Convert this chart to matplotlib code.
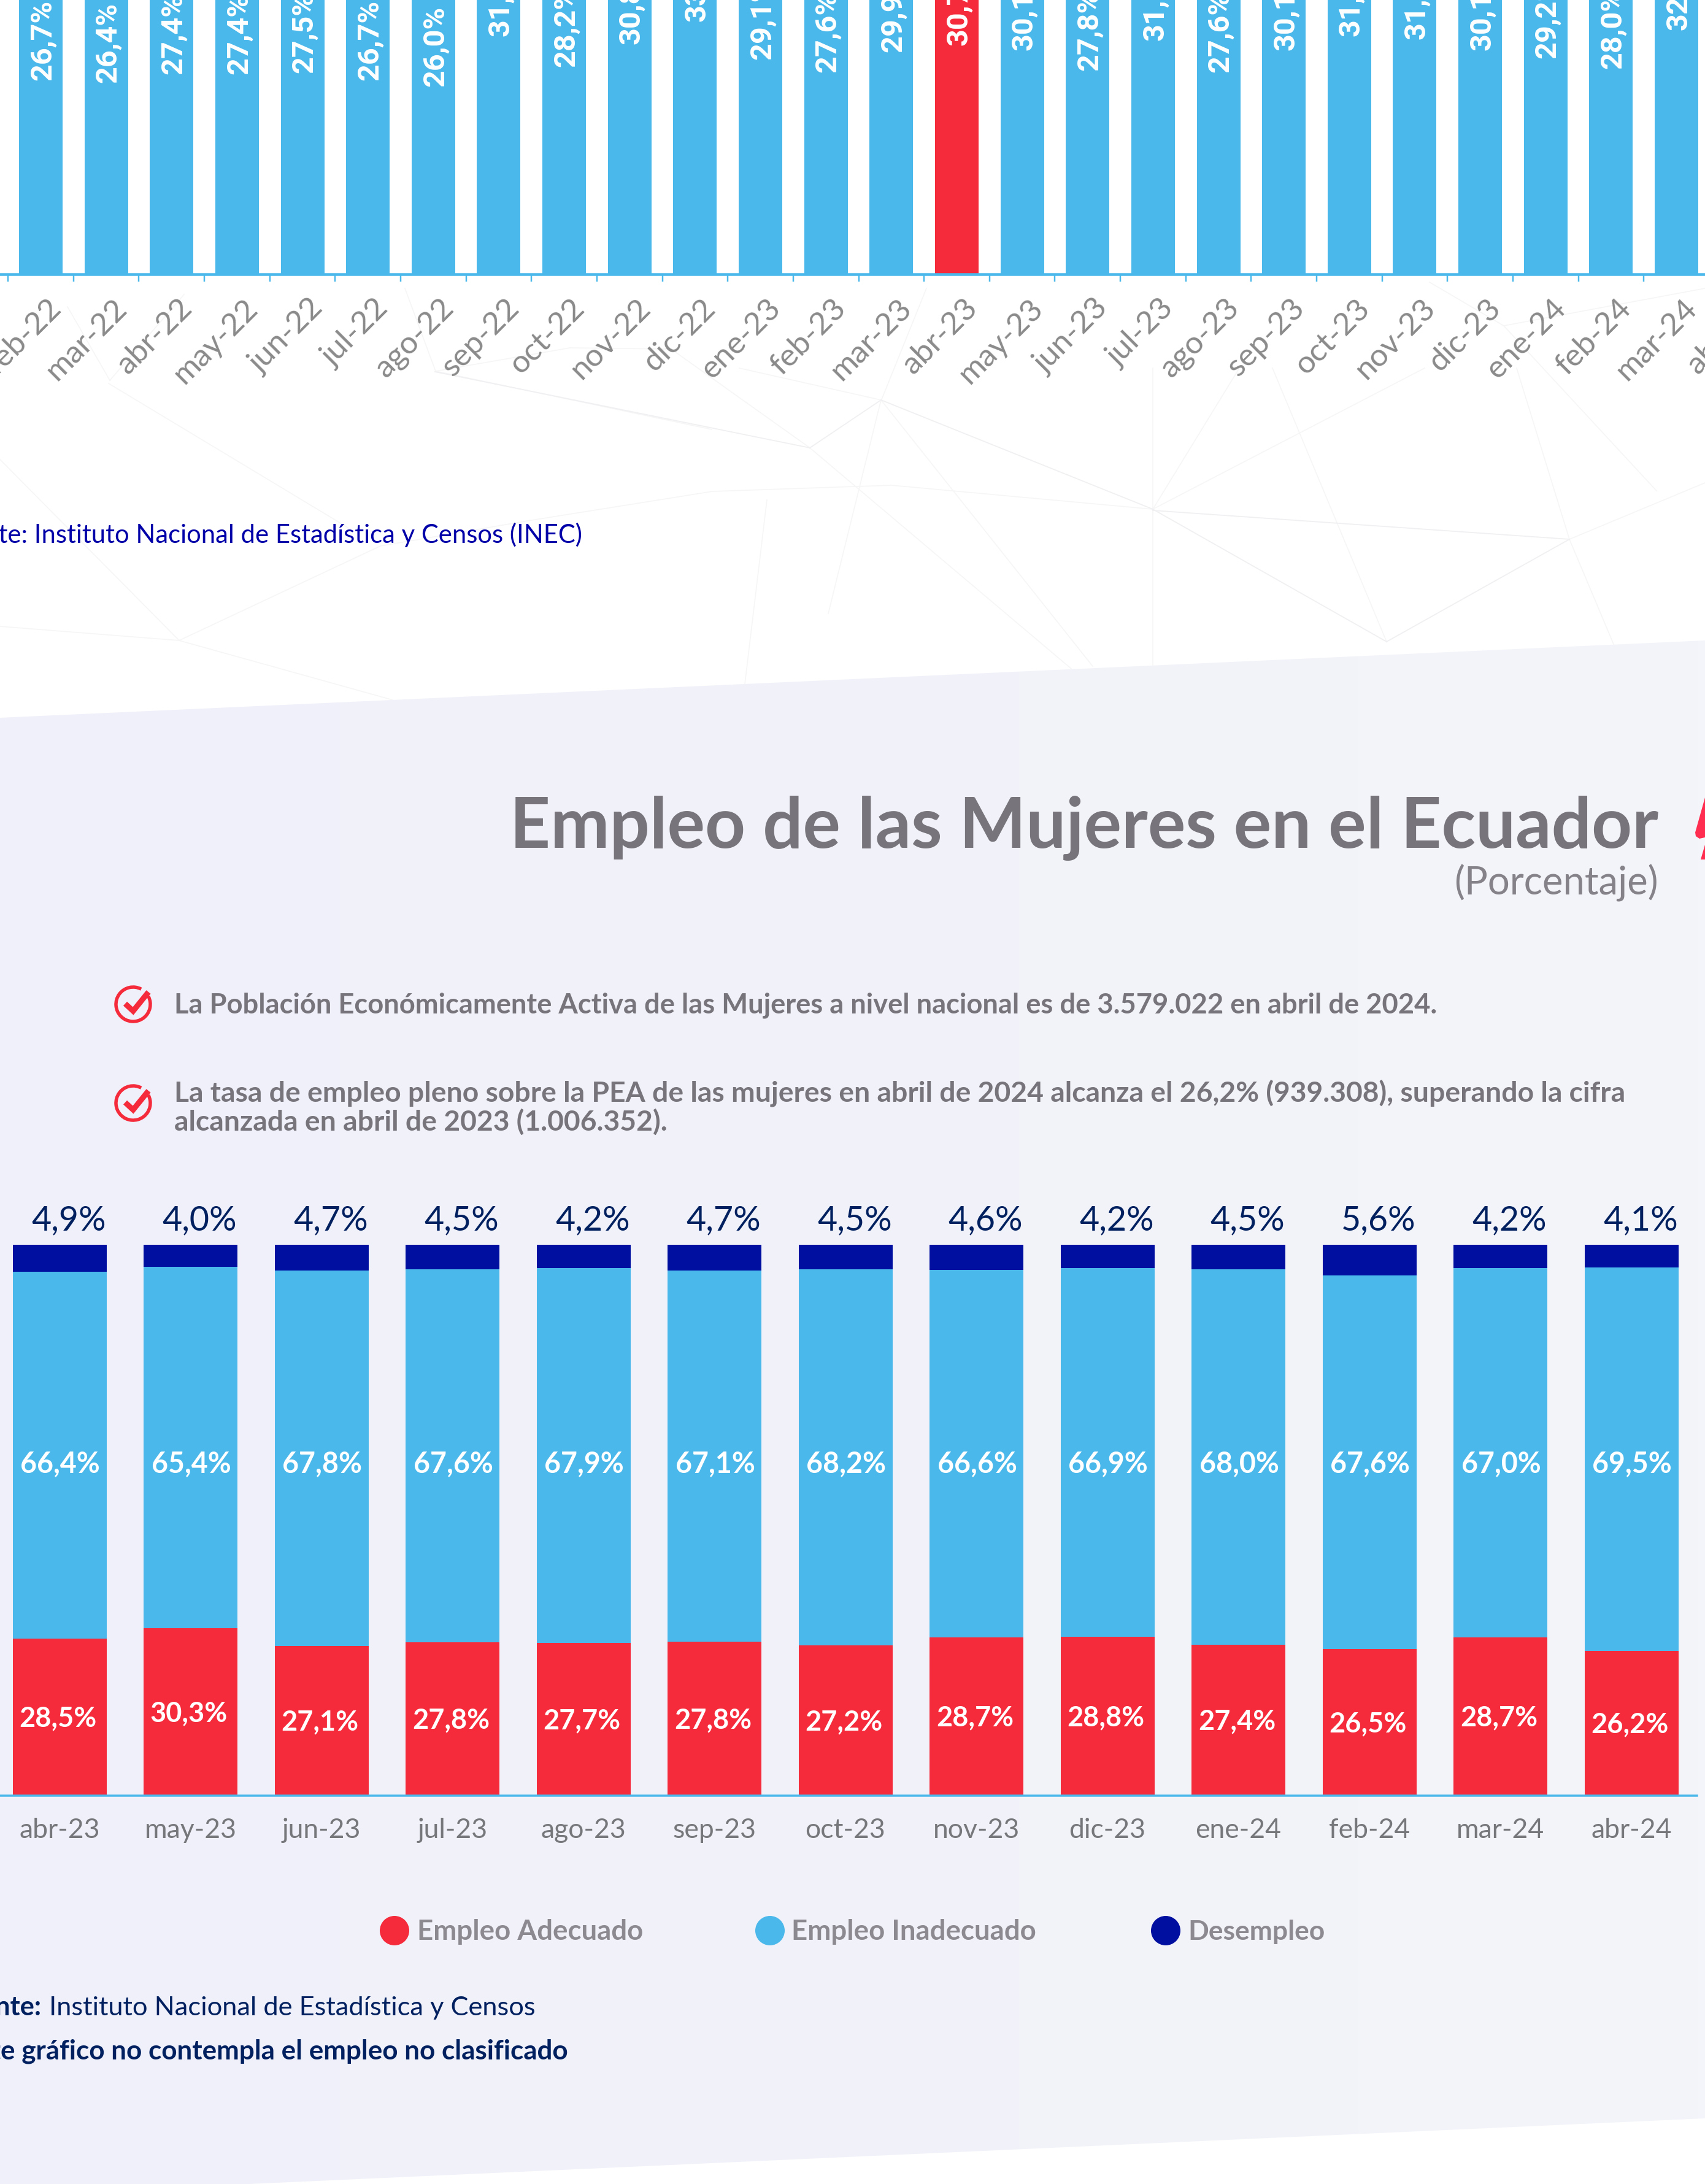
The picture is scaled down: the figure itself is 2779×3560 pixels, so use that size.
import numpy as np
import matplotlib
matplotlib.use("Agg")
import matplotlib.pyplot as plt
from matplotlib.patches import Polygon, Arc, Circle
from matplotlib.transforms import ScaledTranslation
from matplotlib.colors import LinearSegmentedColormap

# ---------- data ----------
top_months = ["feb-22","mar-22","abr-22","may-22","jun-22","jul-22","ago-22","sep-22","oct-22","nov-22",
              "dic-22","ene-23","feb-23","mar-23","abr-23","may-23","jun-23","jul-23","ago-23","sep-23",
              "oct-23","nov-23","dic-23","ene-24","feb-24","mar-24","abr-24"]
top_values = [26.7,26.4,27.4,27.4,27.5,26.7,26.0,31.7,28.2,30.8,
              33.4,29.1,27.6,29.9,30.7,30.1,27.8,31.2,27.6,30.1,
              31.7,31.4,30.1,29.2,28.0,32.4,31.0]
highlight = "abr-23"

months = ["abr-23","may-23","jun-23","jul-23","ago-23","sep-23","oct-23","nov-23","dic-23","ene-24","feb-24","mar-24","abr-24"]
adecuado = [28.5,30.3,27.1,27.8,27.7,27.8,27.2,28.7,28.8,27.4,26.5,28.7,26.2]
inadecuado = [66.4,65.4,67.8,67.6,67.9,67.1,68.2,66.6,66.9,68.0,67.6,67.0,69.5]
desempleo = [4.9,4.0,4.7,4.5,4.2,4.7,4.5,4.6,4.2,4.5,5.6,4.2,4.1]

RED = "#F52A3A"; BLUE = "#4AB8EA"; NAVY = "#000F9F"; TXT = "#77747B"; DARK = "#00205F"
W, H = 2779, 3560
DPI = 100
FONT = "Lato"
plt.rcParams["font.family"] = [FONT, "DejaVu Sans"]

fig = plt.figure(figsize=(W/DPI, H/DPI), dpi=DPI, facecolor="white")
px = 72/DPI   # points per pixel

# ---------- background, in pixel coordinates ----------
bg = fig.add_axes([0, 0, 1, 1], zorder=0)
bg.set_xlim(0, W); bg.set_ylim(H, 0); bg.axis("off")

faint = [[(292,1044),(620,890),(860,849),(1161,801),(1453,791),(1879,830)],
         [(1320,730),(1746,1090)],[(1436,652),(1781,1086)],[(1879,830),(1879,1190)],
         [(1250,815),(1214,1115)],[(177,625),(567,860)],[(0,749),(292,1044)],[(0,1021),(292,1044)],
         [(292,1044),(640,1141)],[(1879,830),(2322,600)],[(1879,830),(2020,600)],[(1879,830),(1879,600)],
         [(1436,652),(1205,600)],[(2260,1046),(2074,600)],[(2558,879),(2472,600)],[(2558,879),(2779,787)],
         [(2558,879),(2630,1050)],[(710,605),(929,567)],[(929,567),(1094,569)],[(710,605),(1160,700)],
         [(1094,569),(1320,730)],[(179,620),(110,500)],[(179,620),(300,480)],[(710,605),(660,470)],
         [(1435,656),(1510,470)],[(1435,656),(1350,1000)],[(2451,531),(2779,470)],[(2451,531),(2700,800)],
         [(2451,531),(2330,460)]]
strong = [[(1879,830),(1436,652)],[(1879,832),(2558,879)],[(709,606),(1320,730)],[(1879,830),(2260,1046)],
          [(2558,879),(2260,1046)],[(1320,730),(1436,652)]]
for seg in faint:
    xs, ys = zip(*seg)
    bg.plot(xs, ys, color="#F6F6F7", lw=1.2, zorder=1)
for seg in strong:
    xs, ys = zip(*seg)
    bg.plot(xs, ys, color="#F0F0F2", lw=1.3, zorder=1)

panel_pts = [(0,1170),(W,1044),(W,3453),(405,3560),(0,3560)]
grad = np.linspace(0, 1, 256).reshape(1, -1)
cmap = LinearSegmentedColormap.from_list("p", ["#EFF0F9", "#F4F5FA"])
im = bg.imshow(grad, extent=(0, W, H, 1000), cmap=cmap, aspect="auto", zorder=2)
bg.set_xlim(0, W); bg.set_ylim(H, 0)
poly = Polygon(panel_pts, closed=True, transform=bg.transData, facecolor="none", edgecolor="none")
bg.add_patch(poly)
im.set_clip_path(poly)

# lightning fragment
bg.add_patch(Polygon([(2779,1300),(2763,1357),(2764,1363),(2770,1367),(2779,1365)], closed=True, fc="#FF2D50", ec="none", zorder=3))
bg.add_patch(Polygon([(2779,1377),(2772,1401),(2779,1401)], closed=True, fc="#FF2D50", ec="none", zorder=3))

renderer = fig.canvas.get_renderer()
def put(x, y, s, w=None, probe=None, **kw):
    """Text on the pixel layer; w = target width in px of `probe` (or of s)."""
    kw.setdefault("va", "baseline")
    t = bg.text(x, y, s, zorder=6, **kw)
    if w is not None:
        t.set_text(probe or s)
        e = t.get_window_extent(renderer).width
        t.set_fontsize(t.get_fontsize()*w/e)
        t.set_text(s)
    return t

# title block
put(2703, 1382, "Empleo de las Mujeres en el Ecuador", w=1874, ha="right", color=TXT, fontweight="bold", fontsize=70)
put(2703, 1458, "(Porcentaje)", w=333, ha="right", color="#85828A", fontsize=40)

# bullets
bul = dict(color=TXT, fontweight="bold", fontsize=32)
put(284, 1652, "La Población Económicamente Activa de las Mujeres a nivel nacional es de 3.579.022 en abril de 2024.", w=2066, **bul)
line1 = "La tasa de empleo pleno sobre la PEA de las mujeres en abril de 2024 alcanza el 26,2% (939.308), superando la cifra"
t1 = put(284, 1796, line1, w=2363, **bul)
put(284, 1843, "alcanzada en abril de 2023 (1.006.352).", color=TXT, fontweight="bold", fontsize=t1.get_fontsize())
for cy in (1637, 1798):
    bg.add_patch(Arc((217, cy), 56, 56, theta1=-28, theta2=298, ec=RED, lw=5.5*px, zorder=5))
    bg.plot([204, 217, 242], [cy-1, cy+11, cy-20], color=RED, lw=9*px, zorder=5, solid_joinstyle="miter", solid_capstyle="butt")

# sources
put(949, 885, "Fuente: Instituto Nacional de Estadística y Censos (INEC)", w=892, probe="Instituto Nacional de Estadística y Censos (INEC)",
    ha="right", color="#0000A8", fontsize=30)
src = put(80, 3285, "Instituto Nacional de Estadística y Censos", w=794, color=DARK, fontsize=30)
put(68, 3285, "Fuente:", ha="right", color=DARK, fontweight="bold", fontsize=src.get_fontsize())
put(926, 3356, "Este gráfico no contempla el empleo no clasificado", w=926, probe="e gráfico no contempla el empleo no clasificado",
    ha="right", color=DARK, fontweight="bold", fontsize=30)

# legend
for cx, tx, tw, col, lab in [(643, 680, 368, RED, "Empleo Adecuado"),
                             (1255, 1290, 399, BLUE, "Empleo Inadecuado"),
                             (1900, 1936, 223, NAVY, "Desempleo")]:
    bg.add_patch(Circle((cx, 3147), 24, fc=col, ec="none", zorder=5))
    put(tx, 3162, lab, w=tw, color="#8C8A90", fontweight="bold", fontsize=30)

# ---------- top chart ----------
PITCH = 106.64; X0 = 66.5; BASE = 447; PXV = 28.6
ax_right = W + 220
ymax = 40
axt = fig.add_axes([0, (H-BASE)/H, ax_right/W, ymax*PXV/H], zorder=2)
axt.patch.set_alpha(0)
axt.set_xlim(-X0/PITCH, (ax_right-X0)/PITCH)
axt.set_ylim(0, ymax)
x = np.arange(len(top_months))
cols = [RED if m == highlight else BLUE for m in top_months]
axt.bar(x, top_values, width=71/PITCH, color=cols, linewidth=0)
for i, v in zip(x, top_values):
    axt.text(i+0.03, v/2, f"{v:.1f}%".replace(".", ","), rotation=90, ha="center", va="center",
             color="white", fontweight="bold", fontsize=35, family="Roboto")
for s in ("top", "left", "right"):
    axt.spines[s].set_visible(False)
axt.spines["bottom"].set_color(BLUE); axt.spines["bottom"].set_linewidth(4.5*px)
axt.set_yticks([])
axt.set_xticks(x)
axt.set_xticklabels(top_months, rotation=45, ha="right", va="center", rotation_mode="anchor",
                    color="#8A8A8A", fontsize=37)
axt.set_xticks(np.append(x-0.5, x[-1]+0.5), minor=True)
axt.tick_params(axis="x", which="major", length=0, pad=48*px)
axt.tick_params(axis="x", which="minor", length=12*px, width=2.5*px, color=BLUE)
off = ScaledTranslation(26/DPI, 0, fig.dpi_scale_trans)
for lb in axt.get_xticklabels():
    lb.set_transform(lb.get_transform()+off)

# ---------- bottom chart ----------
BX0 = 97; BP = 213.5; BB = 2927; BT = 2029; AR = 2766
axb = fig.add_axes([0, (H-BB)/H, AR/W, (BB-BT)/H], zorder=2)
axb.patch.set_alpha(0)
xb = np.arange(len(months))
a, b, c = map(np.array, (adecuado, inadecuado, desempleo))
tot = a+b+c
sa, sb, sc = a/tot*100, b/tot*100, c/tot*100
axb.set_xlim(-BX0/BP, (AR-BX0)/BP); axb.set_ylim(0, 100)
wb = 153/BP
axb.bar(xb, sa, width=wb, color=RED, linewidth=0)
axb.bar(xb, sb, width=wb, bottom=sa, color=BLUE, linewidth=0)
axb.bar(xb, sc, width=wb, bottom=sa+sb, color=NAVY, linewidth=0)
fmt = lambda v: f"{v:.1f}%".replace(".", ",")
for i in xb:
    axb.text(i-0.012, sa[i]/2-0.3, fmt(adecuado[i]), ha="center", va="center", color="white", fontsize=32.5, fontweight="bold")
    axb.text(i+0.006, 60.2, fmt(inadecuado[i]), ha="center", va="center", color="white", fontsize=33.5, fontweight="bold")
    axb.text(i+0.07, 102.6, fmt(desempleo[i]), ha="center", va="baseline", color=DARK, fontsize=40)
for s in ("top", "left", "right"):
    axb.spines[s].set_visible(False)
axb.spines["bottom"].set_color(BLUE); axb.spines["bottom"].set_linewidth(3.5*px)
axb.set_yticks([])
axb.set_xticks(xb)
axb.set_xticklabels(months, color="#76777A", fontsize=32)
axb.tick_params(axis="x", length=0, pad=36*px)

fig.savefig("out.png", dpi=DPI, facecolor="white")
